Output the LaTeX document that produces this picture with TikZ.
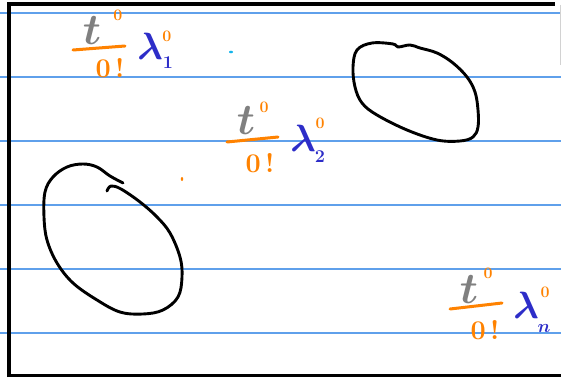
\RequirePackage{fix-cm}
\documentclass[tikz,border=0pt]{standalone}
\usepackage{amsmath,amssymb}
\usepackage{tikz}
\usetikzlibrary{positioning,calc}
\usepackage{xcolor}

\definecolor{tgray}{RGB}{128,128,128}
\definecolor{horange}{RGB}{255,130,0}
\definecolor{hblue}{RGB}{45,45,200}
\definecolor{ruleblue}{RGB}{95,160,235}
\definecolor{dotcyan}{RGB}{20,180,235}

\begin{document}
\begin{tikzpicture}[x=1pt, y=-1pt,
  ruled/.style={draw=ruleblue, line width=1.3pt},
  frame/.style={draw=black, line width=3.2pt},
  blob/.style={draw=black, line width=2.9pt, line cap=round, line join=round},
  tvar/.style={text=tgray, font=\fontsize{44}{48}\selectfont\boldmath, inner sep=0pt},
  supz/.style={text=horange, font=\fontsize{16}{18}\selectfont\bfseries, inner sep=0pt},
  fbar/.style={draw=horange, line width=3pt, line cap=round},
  fden/.style={text=horange, font=\fontsize{27}{30}\selectfont\bfseries, inner sep=0pt},
  lam/.style={text=hblue, font=\fontsize{38}{42}\selectfont\boldmath, inner sep=0pt},
  lsub/.style={text=hblue, font=\fontsize{18}{20}\selectfont\bfseries\boldmath, inner sep=0pt}]
\useasboundingbox (0,0) rectangle (561,377);
% ruled paper
\draw[ruled] (0,13) -- (561,13);
\draw[ruled] (0,77) -- (561,77);
\draw[ruled] (0,141) -- (561,141);
\draw[ruled] (0,205) -- (561,205);
\draw[ruled] (0,269) -- (561,269);
\draw[ruled] (0,333) -- (561,333);
% frame
\draw[frame] (9,377) -- (9,4) -- (555,4);
\draw[frame, line width=2.6pt] (9,375.5) -- (561,375.5);
\draw[draw=gray!35, line width=1pt] (560,5) -- (560,65);

% first term
\node[tvar] (t1) at (92,31) {$t$};
\node[supz] (t1s) at (118,15) {0};
\coordinate (b1l) at (73,50);
\coordinate (b1r) at (125,46);
\draw[fbar] (b1l) -- (b1r);
\node[fden] (d1) at (110,68) {0\,!};
\node[lam] (l1) at (150,46) {$\lambda$};
\node[lsub] (l1b) at (168,63) {1};
\node[supz] (l1s) at (167,36) {0};

% second term
\node[tvar] (t2) at (246,121) {$t$};
\node[supz] (t2s) at (264,107) {0};
\coordinate (b2l) at (227,142);
\coordinate (b2r) at (278,137);
\draw[fbar] (b2l) -- (b2r);
\node[fden] (d2) at (260,163) {0\,!};
\node[lam] (l2) at (303,138) {$\lambda$};
\node[lsub] (l2b) at (320,157) {2};
\node[supz] (l2s) at (320,123) {0};

% last term
\node[tvar] (t3) at (469,290) {$t$};
\node[supz] (t3s) at (488,273) {0};
\coordinate (b3l) at (450,309);
\coordinate (b3r) at (502,303);
\draw[fbar] (b3l) -- (b3r);
\node[fden] (d3) at (485,330) {0\,!};
\node[lam] (l3) at (526,305) {$\lambda$};
\node[lsub] (l3b) at (544,328) {$n$};
\node[supz] (l3s) at (545,292) {0};

% blobs
\draw[blob] plot[smooth cycle, tension=0.6] coordinates {(353,67) (357,50) (372,43)
  (393,44) (398,47) (410,45) (420,48) (437,53) (453,63) (467,77) (475,92) (478,110)
  (478,127) (473,137) (460,141) (437,140) (407,130) (377,115) (362,103) (355,87)};
\draw[blob] plot[smooth, tension=0.6] coordinates {(107,191) (111,186) (121,189)
  (140,202) (157,217) (170,233) (180,257) (182,277) (178,297) (163,310) (143,314)
  (120,312) (97,300) (73,283) (57,263) (47,240) (44,217) (45,192) (53,177) (67,167)
  (83,164) (97,167) (110,176) (123,183)};

% stray dots
\fill[dotcyan] (231,52) ellipse (2pt and 1.3pt);
\fill[horange] (182,179) ellipse (1.2pt and 2pt);
\end{tikzpicture}
\end{document}
